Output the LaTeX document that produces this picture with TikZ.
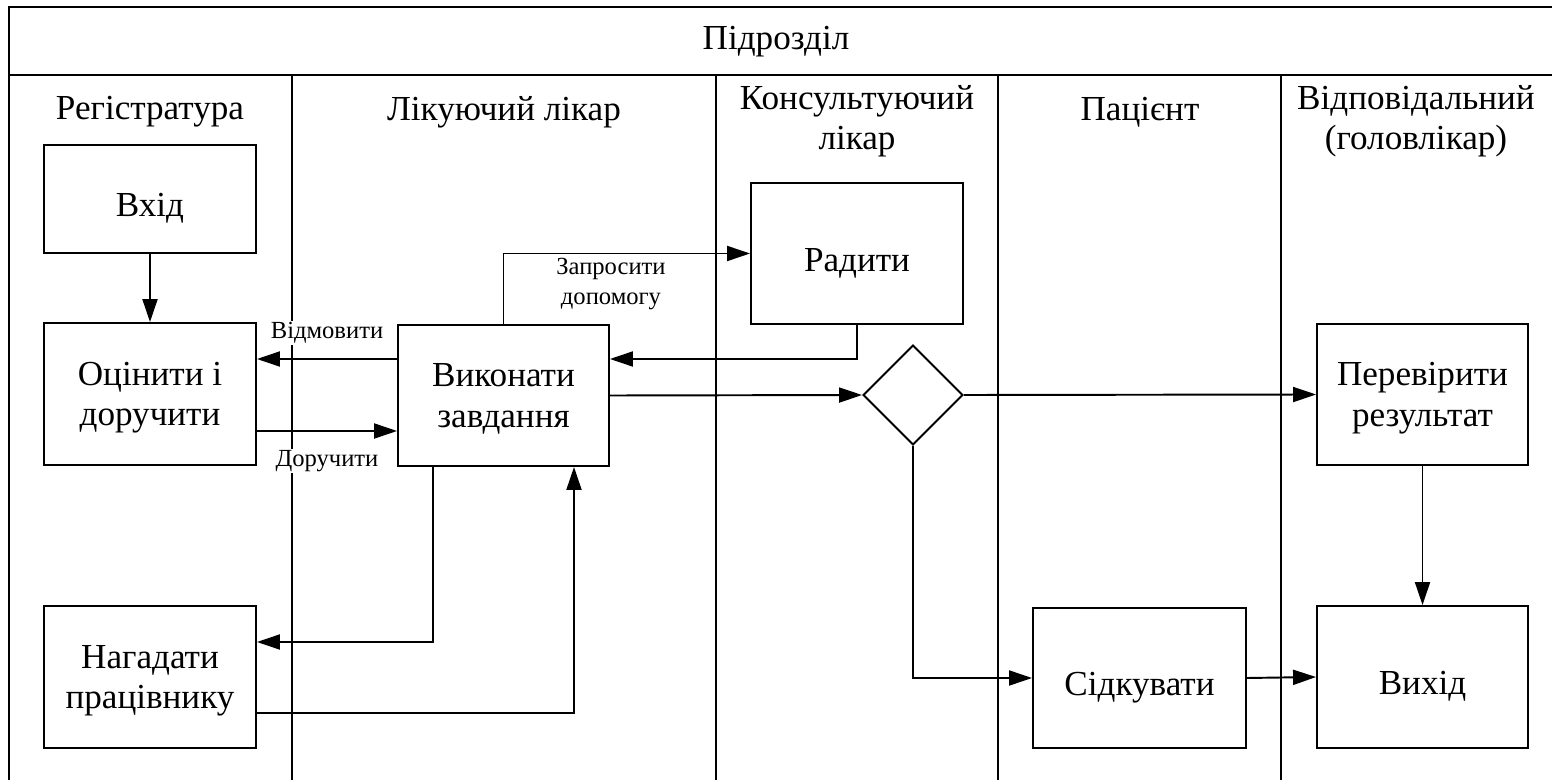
\documentclass[tikz,border=0pt]{standalone}
\usepackage{fontspec}
\setmainfont{Liberation Serif}
\usetikzlibrary{arrows.meta,shapes.geometric}

\begin{document}
\begin{tikzpicture}[x=0.02cm,y=-0.02cm,line width=1.1pt,
  big/.style={font=\fontsize{20}{23}\selectfont,align=center},
  box/.style={draw,big,minimum width=4.24cm,minimum height=2.84cm,inner sep=0pt,text depth=0pt},
  oneline/.style={text height=20pt},
  decision/.style={draw,diamond,minimum width=2cm,minimum height=2cm,inner sep=0pt},
  lbl/.style={fill=white,inner sep=1pt,align=center,font=\fontsize{14}{17}\selectfont},
  arr/.style={-{Triangle[length=0.46cm,width=0.3cm]}}]

\useasboundingbox (0,0) rectangle (1552,780);

% frame and lanes
\draw (9,780) -- (9,7) -- (1552,7);
\draw (9,75) -- (1552,75);
\foreach \lx in {292,716,998,1281}
  \draw (\lx,75) -- (\lx,780);

\node[big] (dept) at (776,42) {Підрозділ};
\node[big] (h1) at (150,112) {Регістратура};
\node[big] (h2) at (504,112) {Лікуючий лікар};
\node[big] (h3) at (857,121) {Консультуючий\\лікар};
\node[big] (h4) at (1140,112) {Пацієнт};
\node[big] (h5) at (1416,121) {Відповідальний\\(головлікар)};

% steps
\node[box,oneline,minimum height=2.16cm] (vhid) at (150,199) {Вхід};
\node[box] (otsin) at (150,394) {Оцінити і\\доручити};
\node[box] (nahad) at (150,677) {Нагадати\\працівнику};
\node[box,minimum width=4.22cm,minimum height=2.82cm] (vykon) at (503.5,395.5) {Виконати\\завдання};
\node[box,oneline,minimum height=2.82cm] (radyty) at (857,253.5) {Радити};
\node[decision] (choice) at (913,395) {};
\node[box,minimum width=4.22cm,minimum height=2.82cm] (perev) at (1422.5,394.5) {Перевірити\\результат};
\node[box,oneline,minimum width=4.26cm,minimum height=2.8cm] (sidk) at (1139.5,678) {Сідкувати};
\node[box,oneline,minimum width=4.22cm] (vyhid) at (1422.5,677) {Вихід};

% flows
\draw[arr] (vhid) -- (otsin);
\draw[arr] (vykon.west |- 0,359) -- (otsin.east |- 0,359);
\draw[arr] (otsin.east |- 0,431) -- (vykon.west |- 0,431);
\draw[arr] (vykon.north) |- (radyty.west);
\draw[arr] (radyty.south) |- (vykon.east |- 0,359);
\draw[arr] (vykon.east) -- (choice.west);
\draw[arr] (choice.east) -- (perev.west);
\draw[arr] (choice.south) |- (sidk.west);
\draw[arr] (vykon.south -| 433,0) |- (nahad.east |- 0,642);
\draw[arr] (nahad.east |- 0,713) -| (vykon.south -| 574,0);
\draw[arr] (sidk.east) -- (vyhid.west);
\draw[arr] (perev) -- (vyhid);

\node[lbl] (refuse) at (327,333) {Відмовити};
\node[lbl] (assign) at (327,461) {Доручити};
\node[lbl] (askhelp) at (611,284) {Запросити\\допомогу};
\end{tikzpicture}
\end{document}
